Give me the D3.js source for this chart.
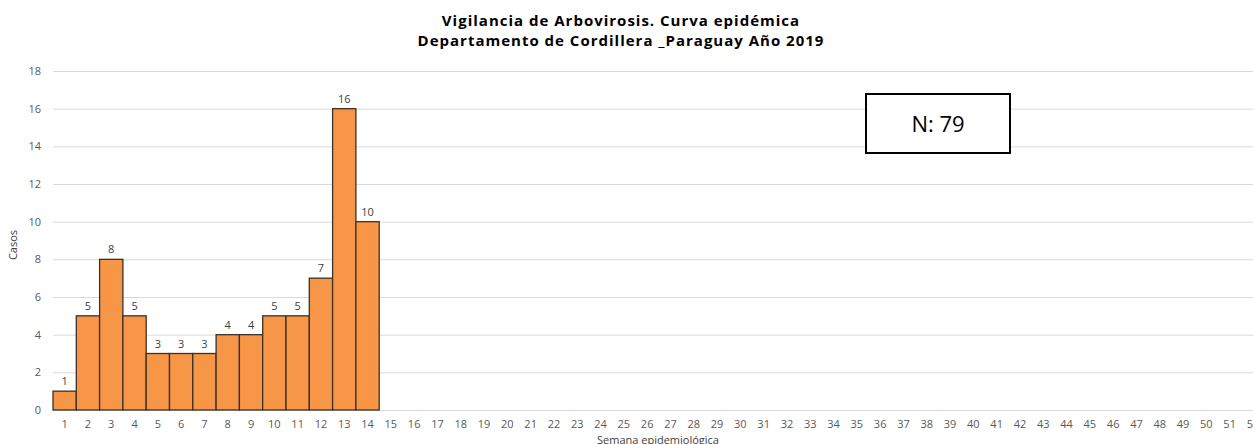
<html>
<head>
  <script src="https://d3js.org/d3.v7.min.js"></script>
  <style>
    body { margin: 0; background: #fff; }
    svg text { font-family: "Open Sans", "Noto Sans", sans-serif; }
    .gridlines line { stroke: #d9d9d9; }
    .gridlines .domain { stroke: none; }
  </style>
</head>
<body>
  <svg id="chart" width="1253" height="444"></svg>
  <script>
    // weeks and cases
    const weeks = d3.range(1, 53);
    const cases = [1, 5, 8, 5, 3, 3, 3, 4, 4, 5, 5, 7, 16, 10];
    const yTicks = [0, 2, 4, 6, 8, 10, 12, 14, 16, 18];
    const totalLabel = "N: 79";

    const svg = d3.select("svg#chart");
    const margin = { top: 71, left: 53 };
    const baseline = 410;

    const xScale = d3.scaleBand()
      .domain(weeks)
      .range([margin.left, margin.left + 52 * 23.3])
      .padding(0);
    const yScale = d3.scaleLinear().domain([0, 18]).range([baseline, margin.top]);

    // gridlines
    const grid = d3.axisLeft(yScale).tickValues(yTicks).tickFormat("").tickSize(-1253);
    svg.append("g").attr("class", "gridlines")
      .attr("transform", `translate(${margin.left},0)`)
      .call(grid);

    // y tick labels
    svg.append("g").selectAll("text")
      .data(yTicks)
      .join("text")
      .attr("x", 41)
      .attr("y", d => yScale(d))
      .attr("dy", "0.35em")
      .attr("text-anchor", "end")
      .attr("font-size", 11)
      .attr("fill", "#595959")
      .text(d => d);

    // bars
    const barData = cases.map((c, i) => ({ week: weeks[i], value: c }));
    svg.append("g").selectAll("rect")
      .data(barData)
      .join("rect")
      .attr("x", d => xScale(d.week))
      .attr("y", d => yScale(d.value))
      .attr("width", xScale.bandwidth())
      .attr("height", d => baseline - yScale(d.value))
      .attr("fill", "#F79646")
      .attr("stroke", "#3b3128")
      .attr("stroke-width", 1.3);

    // value labels
    svg.append("g").selectAll("text")
      .data(barData)
      .join("text")
      .attr("x", d => xScale(d.week) + xScale.bandwidth() / 2)
      .attr("y", d => yScale(d.value) - 6)
      .attr("text-anchor", "middle")
      .attr("font-size", 11)
      .attr("fill", "#404040")
      .text(d => d.value);

    // x tick labels
    svg.append("g").selectAll("text")
      .data(weeks)
      .join("text")
      .attr("x", d => xScale(d) + xScale.bandwidth() / 2)
      .attr("y", 428)
      .attr("text-anchor", "middle")
      .attr("font-size", 11)
      .attr("fill", "#595959")
      .text(d => d);

    // axis titles
    svg.append("text")
      .attr("x", 658).attr("y", 444)
      .attr("text-anchor", "middle")
      .attr("font-size", 11)
      .attr("fill", "#404040")
      .text("Semana epidemiológica");

    svg.append("text")
      .attr("transform", "translate(17,245) rotate(-90)")
      .attr("text-anchor", "middle")
      .attr("font-size", 11)
      .attr("fill", "#404040")
      .text("Casos");

    // title
    svg.append("text")
      .attr("x", 621).attr("y", 26)
      .attr("text-anchor", "middle")
      .attr("font-size", 15)
      .attr("letter-spacing", 1)
      .attr("font-weight", "bold")
      .text("Vigilancia de Arbovirosis. Curva epidémica");
    svg.append("text")
      .attr("x", 621).attr("y", 46)
      .attr("text-anchor", "middle")
      .attr("font-size", 15)
      .attr("letter-spacing", 1)
      .attr("font-weight", "bold")
      .text("Departamento de Cordillera _Paraguay Año 2019");

    // N box
    svg.append("rect")
      .attr("x", 866).attr("y", 94)
      .attr("width", 144).attr("height", 59)
      .attr("fill", "#fff")
      .attr("stroke", "#000")
      .attr("stroke-width", 2);
    svg.append("text")
      .attr("x", 938).attr("y", 132)
      .attr("text-anchor", "middle")
      .attr("font-size", 22)
      .text(totalLabel);
  </script>
</body>
</html>
